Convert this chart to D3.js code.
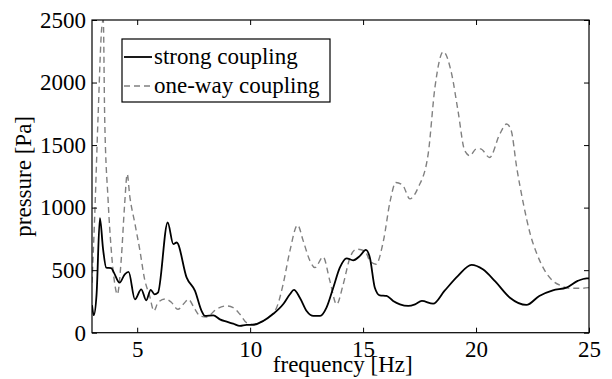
<!DOCTYPE html>
<html lang="en">
  <head>
    <meta charset="UTF-8" />
    <title>pressure vs frequency</title>
    <script src="https://d3js.org/d3.v7.min.js"></script>
    <style>
      body {
        margin: 0;
        background-color: #fff;
      }
    </style>
  </head>
  <body>
    <div id="chart"></div>

    <script>
      // strong coupling (solid)
      const strongFreq = [3.0, 3.08, 3.2, 3.35, 3.49, 3.63, 3.85, 3.97, 4.22, 4.45, 4.62, 4.9, 5.18, 5.4, 5.6, 5.77, 5.92,
        6.35, 6.6, 6.75, 7.19, 7.56, 7.85, 8.0, 8.37, 8.66, 8.96, 9.25, 9.55, 9.84, 10.1, 10.58, 11.0, 11.46, 11.76, 11.94,
        12.2, 12.5, 12.8, 13.1, 13.38, 13.68, 13.97, 14.27, 14.56, 14.86, 15.12, 15.3, 15.52, 15.74, 16.04, 16.33, 16.63,
        17.0, 17.3, 17.6, 18.1, 18.6, 19.2, 19.8, 20.3, 20.85, 21.5, 22.23, 22.8, 23.4, 24.0, 24.5, 24.9, 25.0];
      const strongVal = [220, 140, 300, 915, 668, 520, 516, 480, 400, 467, 486, 267, 347, 259, 342, 307, 320,
        881, 708, 721, 440, 334, 174, 134, 139, 107, 88, 72, 54, 62, 62, 94, 147, 227, 307, 342,
        280, 174, 134, 134, 200, 360, 520, 595, 579, 614, 662, 600, 360, 299, 294, 254, 227,
        214, 227, 254, 232, 334, 454, 542, 507, 410, 280, 222, 294, 339, 360, 414, 435, 435];

      // one-way coupling (dashed)
      const oneWayFreq = [3.0, 3.12, 3.27, 3.44, 3.5, 3.56, 3.71, 3.85, 4.0, 4.12, 4.3, 4.44, 4.56, 4.67, 4.89, 5.11, 5.33,
        5.55, 5.74, 5.92, 6.24, 6.5, 6.8, 7.1, 7.26, 7.56, 7.78, 8.07, 8.5, 8.96, 9.25, 9.55, 9.84, 10.1, 10.7, 11.17,
        11.46, 11.76, 12.1, 12.35, 12.65, 12.87, 13.23, 13.53, 13.83, 14.12, 14.42, 14.71, 15.08, 15.3, 15.57, 15.9,
        16.2, 16.45, 16.75, 17.07, 17.44, 17.88, 18.18, 18.55, 18.92, 19.2, 19.5, 19.73, 20.0, 20.2, 20.6, 21.05, 21.35,
        21.55, 21.8, 22.1, 22.4, 22.7, 23.05, 23.4, 23.78, 24.15, 24.6, 25.0];
      const oneWayVal = [400, 934, 1734, 2455, 2500, 1734, 1068, 668, 400, 307, 600, 1014, 1268, 1094, 881, 668, 427,
        294, 174, 240, 270, 245, 187, 240, 267, 187, 134, 126, 187, 214, 200, 147, 80, 67, 110, 200,
        387, 654, 860, 734, 574, 520, 606, 414, 227, 387, 600, 668, 654, 574, 547, 734,
        1054, 1201, 1180, 1070, 1161, 1428, 1961, 2247, 2069, 1775, 1455, 1415, 1468, 1470, 1401, 1588, 1668,
        1620, 1321, 1028, 788, 627, 494, 414, 374, 355, 355, 360];

      const xTicks = [5, 10, 15, 20, 25];
      const yTicks = [0, 500, 1000, 1500, 2000, 2500];
      const seriesNames = ["strong coupling", "one-way coupling"];

      const width = 612;
      const height = 379;
      const margin = { top: 20, right: 23, bottom: 47, left: 92 };
      const serif = "'Liberation Serif', 'DejaVu Serif', serif";
      const fontSize = "23px";
      const tickLen = 5;

      const svg = d3
        .select("#chart")
        .append("svg")
        .attr("width", width)
        .attr("height", height);

      const x = d3
        .scaleLinear()
        .domain([3, 25])
        .range([margin.left, width - margin.right]);
      const y = d3
        .scaleLinear()
        .domain([0, 2500])
        .range([height - margin.bottom + 0.7, margin.top]);

      svg
        .append("clipPath")
        .attr("id", "plotClip")
        .append("rect")
        .attr("x", margin.left)
        .attr("y", margin.top)
        .attr("width", width - margin.left - margin.right)
        .attr("height", y(0) - margin.top);

      const line = d3
        .line()
        .x((d) => x(d[0]))
        .y((d) => y(d[1]))
        .curve(d3.curveMonotoneX);

      const oneWay = oneWayFreq.map((f, i) => [f, oneWayVal[i]]);
      const strong = strongFreq.map((f, i) => [f, strongVal[i]]);

      const plot = svg.append("g").attr("clip-path", "url(#plotClip)");

      plot
        .append("path")
        .datum(oneWay)
        .attr("d", line)
        .attr("fill", "none")
        .attr("stroke", "#808080")
        .attr("stroke-width", 1.4)
        .attr("stroke-dasharray", "6,4");

      plot
        .append("path")
        .datum(strong)
        .attr("d", line)
        .attr("fill", "none")
        .attr("stroke", "#000")
        .attr("stroke-width", 1.8);

      // axes, ticks pointing inward on all four sides
      const styleAxis = (g) => {
        g.select(".domain").remove();
        g.selectAll("line").attr("stroke", "#000");
      };

      svg
        .append("g")
        .attr("transform", `translate(0,${y(0)})`)
        .call(d3.axisBottom(x).tickValues(xTicks).tickSize(-tickLen).tickPadding(8).tickFormat(d3.format("d")))
        .call(styleAxis);

      svg
        .append("g")
        .attr("transform", `translate(0,${margin.top})`)
        .call(d3.axisTop(x).tickValues(xTicks).tickSize(-tickLen).tickFormat(""))
        .call(styleAxis);

      svg
        .append("g")
        .attr("transform", `translate(${margin.left},0)`)
        .call(d3.axisLeft(y).tickValues(yTicks).tickSize(-tickLen).tickPadding(6).tickFormat(d3.format("d")))
        .call(styleAxis);

      svg
        .append("g")
        .attr("transform", `translate(${width - margin.right},0)`)
        .call(d3.axisRight(y).tickValues(yTicks).tickSize(-tickLen).tickFormat(""))
        .call(styleAxis);

      svg
        .append("rect")
        .attr("x", margin.left)
        .attr("y", margin.top)
        .attr("width", width - margin.left - margin.right)
        .attr("height", y(0) - margin.top)
        .attr("fill", "none")
        .attr("stroke", "#000")
        .attr("stroke-width", 1.2);

      // axis titles
      svg
        .append("text")
        .attr("x", x(14.1))
        .attr("y", 372)
        .attr("text-anchor", "middle")
        .text("frequency [Hz]");

      svg
        .append("text")
        .attr("transform", `translate(31,${y(1250)}) rotate(-90)`)
        .attr("text-anchor", "middle")
        .text("pressure [Pa]");

      // legend
      const legend = svg.append("g").attr("transform", "translate(122,39)");
      legend
        .append("rect")
        .attr("width", 208)
        .attr("height", 63)
        .attr("fill", "#fff")
        .attr("stroke", "#000")
        .attr("stroke-width", 1.2);

      const legendStyles = [
        { stroke: "#000", dash: null, w: 1.8 },
        { stroke: "#808080", dash: "6,4", w: 1.4 },
      ];
      seriesNames.forEach((name, i) => {
        const cy = 18 + i * 29;
        legend
          .append("line")
          .attr("x1", 2)
          .attr("x2", 30)
          .attr("y1", cy)
          .attr("y2", cy)
          .attr("stroke", legendStyles[i].stroke)
          .attr("stroke-width", legendStyles[i].w)
          .attr("stroke-dasharray", legendStyles[i].dash);
        legend
          .append("text")
          .attr("x", 32)
          .attr("y", cy)
          .attr("dy", "0.32em")
          .text(name);
      });

      // one serif face for every label
      svg
        .selectAll("text")
        .style("font-family", serif)
        .style("font-size", fontSize)
        .style("fill", "#000");
    </script>
  </body>
</html>
